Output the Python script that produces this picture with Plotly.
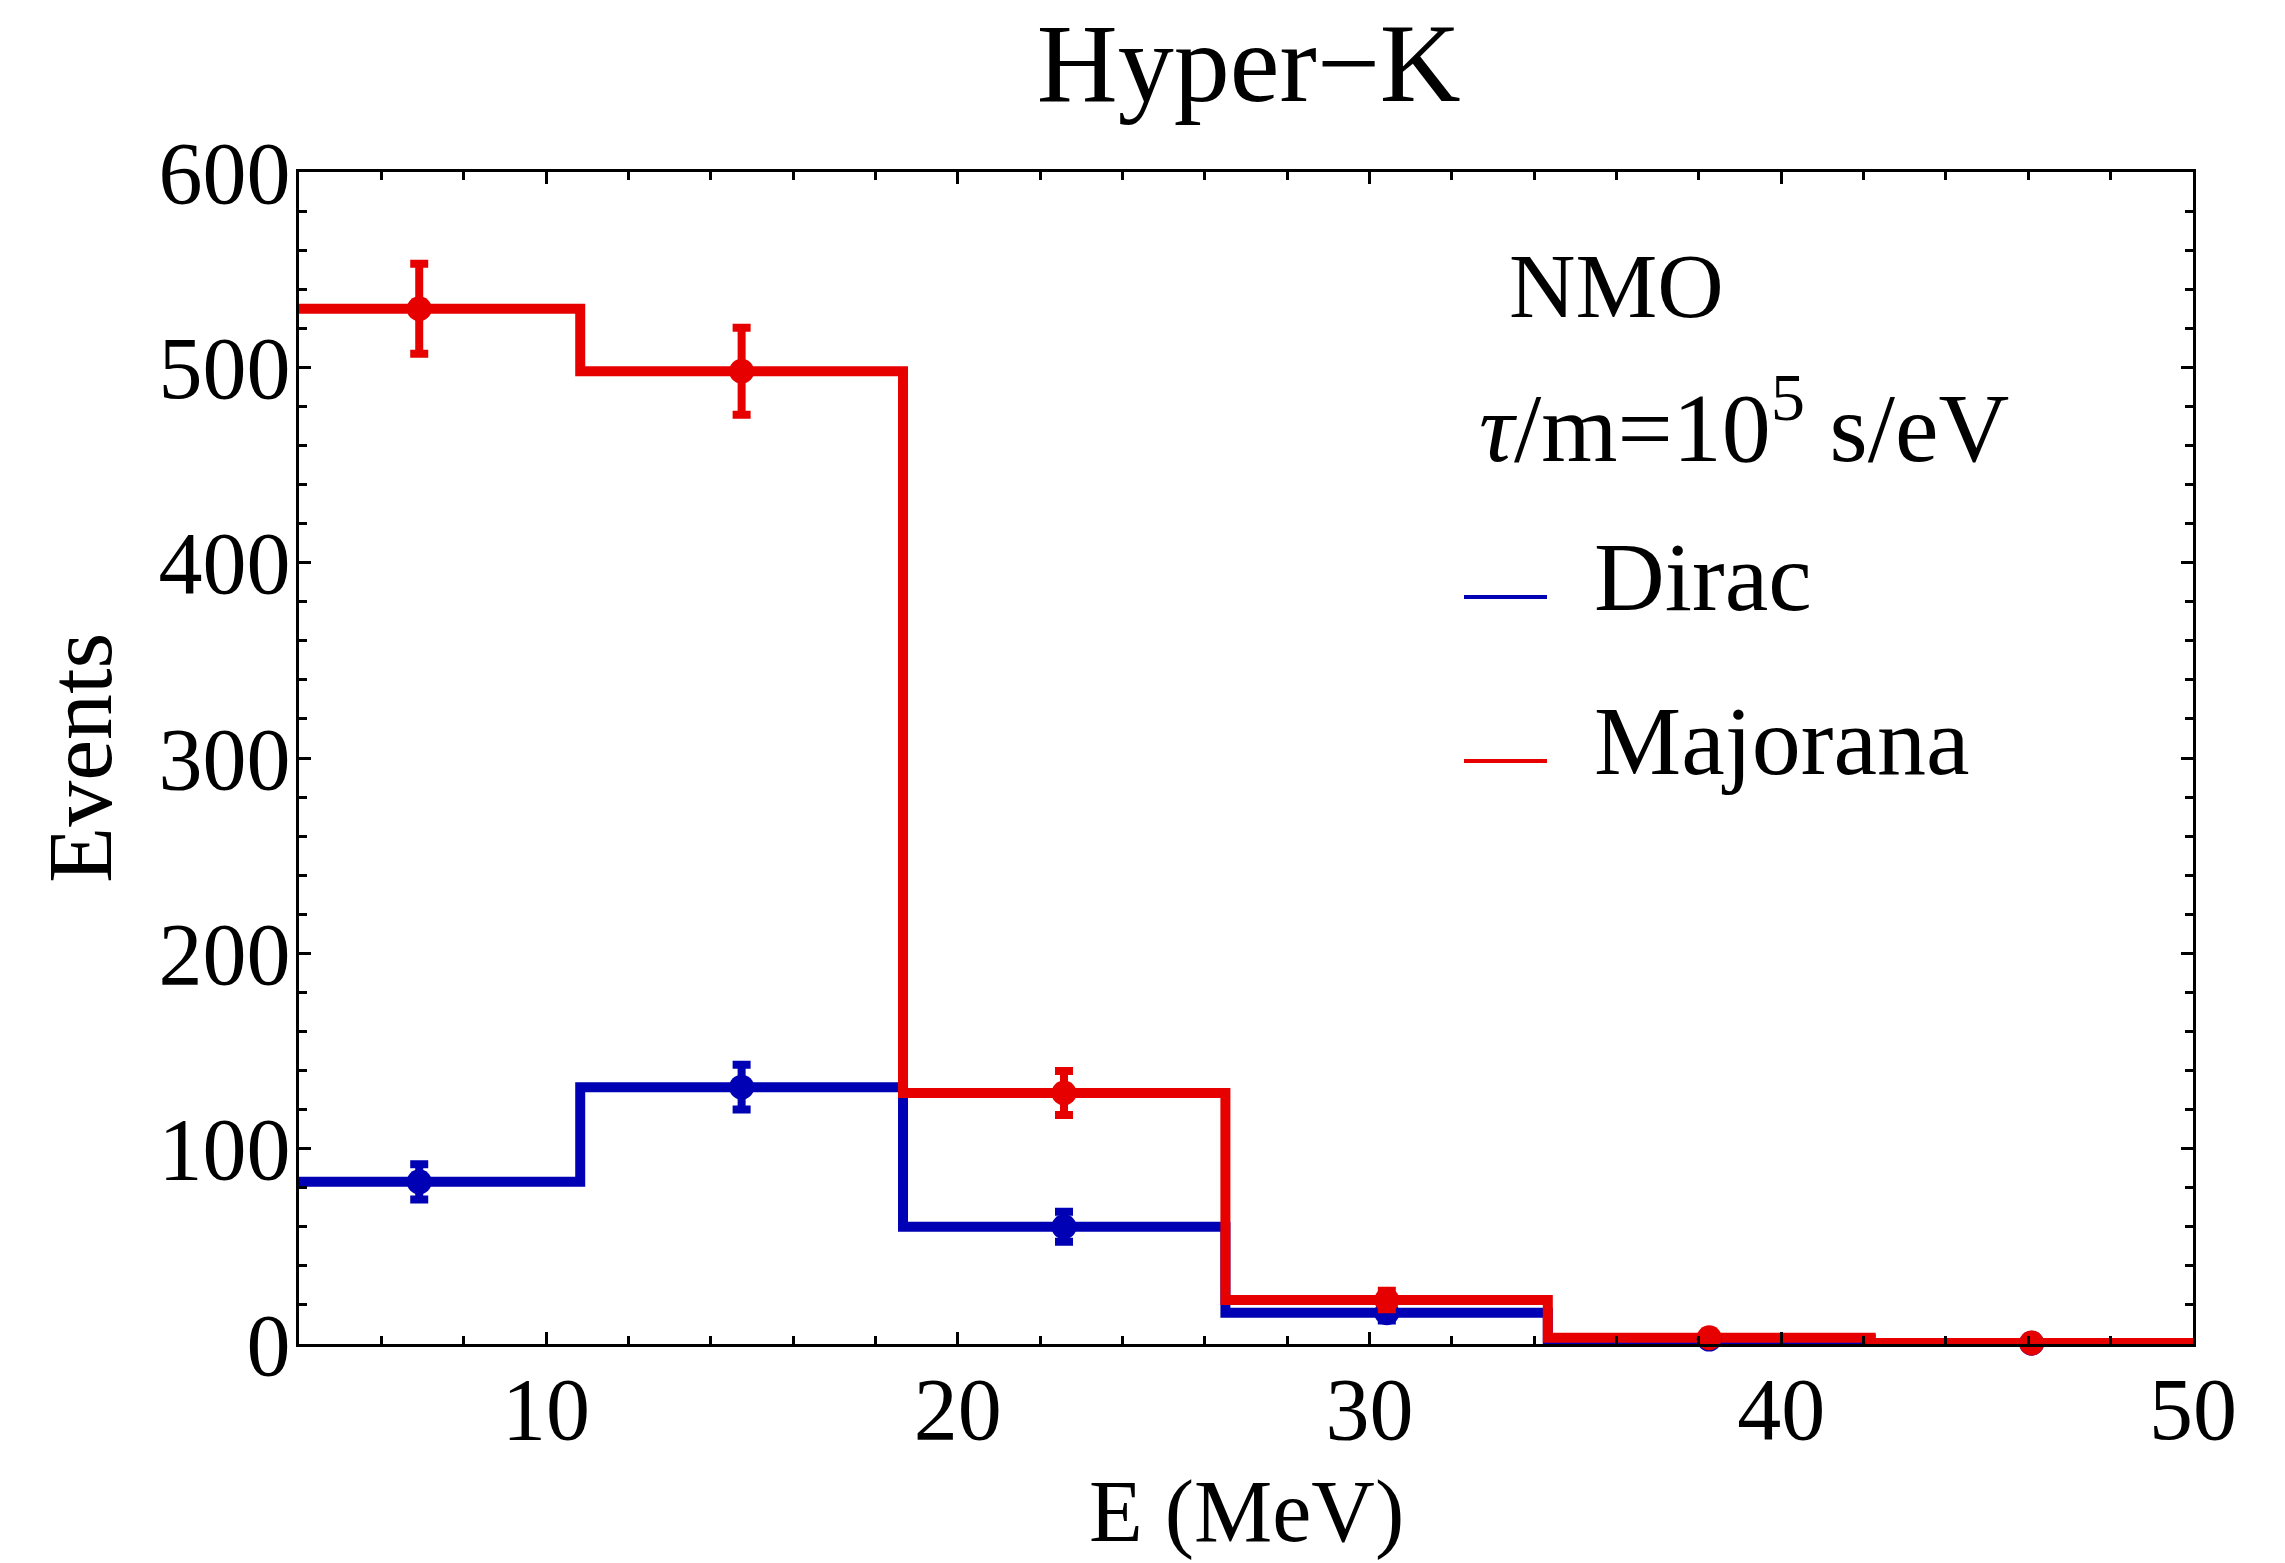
import plotly.graph_objects as go

# ---- data ----
bin_edges = [3.0, 10.83, 18.67, 26.5, 34.33, 42.17, 50.0]
bin_centers = [6.92, 14.75, 22.58, 30.42, 38.25, 46.08]
dirac_events = [83, 131.5, 60, 16, 2.5, 0.4]
dirac_err = [9, 11.5, 7.7, 4, 1.6, 0.6]
majorana_events = [530, 498, 128.5, 22.5, 3.2, 0.5]
majorana_err = [23, 22.3, 11.3, 4.7, 1.8, 0.7]
series = [("Dirac", dirac_events, dirac_err, "#0000B4"),
          ("Majorana", majorana_events, majorana_err, "#E60000")]

FONT = "Liberation Serif"
W, H = 2285, 1563
L, R, T, B = 299, 2193, 172, 1344  # plot area pixels


def px(x):
    return (x - L) / (R - L)


def py(y):
    return (B - y) / (B - T)


fig = go.Figure()
for name, vals, errs, col in series:
    fig.add_trace(go.Scatter(
        x=bin_edges, y=list(vals) + [vals[-1]], mode="lines",
        line=dict(shape="hv", color=col, width=10), name=name,
        showlegend=False, hoverinfo="skip"))
for name, vals, errs, col in series:
    fig.add_trace(go.Scatter(
        x=bin_centers, y=vals, mode="markers", name=name,
        marker=dict(color=col, size=25),
        error_y=dict(type="data", array=errs, visible=True, color=col,
                     thickness=8, width=9),
        cliponaxis=False, showlegend=False))

axis_common = dict(
    showline=True, linecolor="black", linewidth=3, mirror="allticks",
    ticks="inside", ticklen=12, tickwidth=3, tickcolor="black",
    showgrid=False, zeroline=False,
    tickfont=dict(family=FONT, size=88, color="black"),
)
fig.update_xaxes(range=[4, 50], tick0=0, dtick=10,
                 minor=dict(dtick=2, tick0=0, ticks="inside", ticklen=8,
                            tickwidth=3, tickcolor="black", showgrid=False),
                 ticklabelstandoff=-14, **axis_common)
fig.update_yaxes(range=[0, 600], tick0=0, dtick=100,
                 minor=dict(dtick=20, tick0=0, ticks="inside", ticklen=8,
                            tickwidth=3, tickcolor="black", showgrid=False),
                 ticklabelstandoff=-12, **axis_common)

ann = []
# axis titles
ann.append(dict(x=0.5, y=py(1511), xref="paper", yref="paper",
                text="E (MeV)", showarrow=False, xanchor="center", yanchor="middle",
                font=dict(family=FONT, size=88, color="black")))
ann.append(dict(x=px(80), y=0.5, xref="paper", yref="paper",
                text="Events", showarrow=False, textangle=-90,
                xanchor="center", yanchor="middle",
                font=dict(family=FONT, size=92, color="black")))
# legend block
ann.append(dict(x=px(1616), y=py(286), xref="paper", yref="paper",
                text="NMO", showarrow=False, xanchor="center", yanchor="middle",
                font=dict(family=FONT, size=92, color="black")))
ann.append(dict(x=px(1744), y=py(420), xref="paper", yref="paper",
                text="<i>τ</i>/m=10<sup>5</sup> s/eV", showarrow=False,
                xanchor="center", yanchor="middle",
                font=dict(family=FONT, size=98, color="black")))
legend_rows = [("Dirac", 597, "#0000B4"), ("Majorana", 761, "#E60000")]
shapes = []
for text, yrow, col in legend_rows:
    shapes.append(dict(type="line", xref="paper", yref="paper",
                       x0=px(1464), x1=px(1547), y0=py(yrow), y1=py(yrow),
                       line=dict(color=col, width=4)))
    ann.append(dict(x=px(1592), y=py(yrow - 20), xref="paper", yref="paper",
                    text=text, showarrow=False, xanchor="left", yanchor="middle",
                    font=dict(family=FONT, size=98, color="black")))

fig.update_layout(
    width=W, height=H,
    margin=dict(l=L, r=W - R, t=T, b=H - B),
    paper_bgcolor="white", plot_bgcolor="white",
    title=dict(text="Hyper−K", x=0.5465, xanchor="center", y=1 - 62 / H,
               yref="container", yanchor="middle",
               font=dict(family=FONT, size=112, color="black")),
    annotations=ann, shapes=shapes, showlegend=False,
)

fig.write_html("out.html")
